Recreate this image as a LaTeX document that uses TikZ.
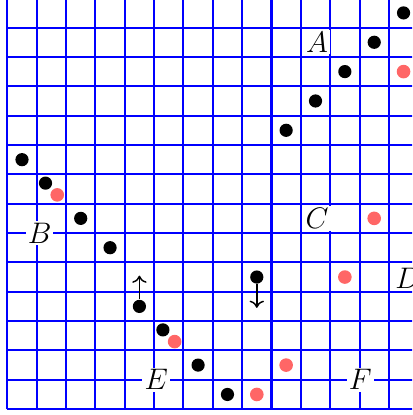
\documentclass[tikz,border=0pt]{standalone}
\usetikzlibrary{arrows.meta}

\begin{document}
\begin{tikzpicture}[x=0.5cm, y=0.5cm,
  gridline/.style={blue, line width=1pt},
  blackdot/.style={circle, fill=black, inner sep=0pt, minimum size=6.4pt},
  reddot/.style={circle, fill=red!60, inner sep=0pt, minimum size=6.6pt},
  letter/.style={fill=white, inner sep=1pt, font=\Large},
  moveline/.style={-{To[length=3.5pt, width=7pt]}, line width=0.7pt}
]

\useasboundingbox (-0.25,-0.2) rectangle (13.79,13.94);
\clip (-0.25,-0.2) rectangle (13.79,13.94);
\draw[gridline, step=0.5cm] (0,0) grid (14,14);

% letters
\node[letter] (lA) at (10.55,12.5) {$A$};
\node[letter] (lB) at (1.1,6) {$B$};
\node[letter] (lC) at (10.55,6.5) {$C$};
\node[letter] (lD) at (13.65,4.47) {$D$};
\node[letter] (lE) at (5.07,1) {$E$};
\node[letter] (lF) at (12.03,1) {$F$};

% black dots
\node[blackdot] (b1) at (13.5,13.5) {};
\node[blackdot] (b2) at (12.5,12.5) {};
\node[blackdot] (b3) at (11.5,11.5) {};
\node[blackdot] (b4) at (10.5,10.5) {};
\node[blackdot] (b5) at (9.5,9.5) {};
\node[blackdot] (b6) at (0.5,8.5) {};
\node[blackdot] (b7) at (1.3,7.7) {};
\node[blackdot] (b8) at (2.5,6.5) {};
\node[blackdot] (b9) at (3.5,5.5) {};
\node[blackdot] (up) at (4.5,3.5) {};
\node[blackdot] (down) at (8.5,4.5) {};
\node[blackdot] (b10) at (5.3,2.7) {};
\node[blackdot] (b11) at (6.5,1.5) {};
\node[blackdot] (b12) at (7.5,0.5) {};

% red dots
\node[reddot] (r1) at (13.5,11.5) {};
\node[reddot] (r2) at (1.7,7.3) {};
\node[reddot] (r3) at (12.5,6.5) {};
\node[reddot] (r4) at (11.5,4.5) {};
\node[reddot] (r5) at (5.7,2.3) {};
\node[reddot] (r6) at (9.5,1.5) {};
\node[reddot] (r7) at (8.5,0.5) {};

% moves
\coordinate (uptip) at (4.5,4.55);
\coordinate (downtip) at (8.5,3.45);
\draw[moveline] (up) -- (uptip);
\draw[moveline] (down) -- (downtip);

\end{tikzpicture}
\end{document}
